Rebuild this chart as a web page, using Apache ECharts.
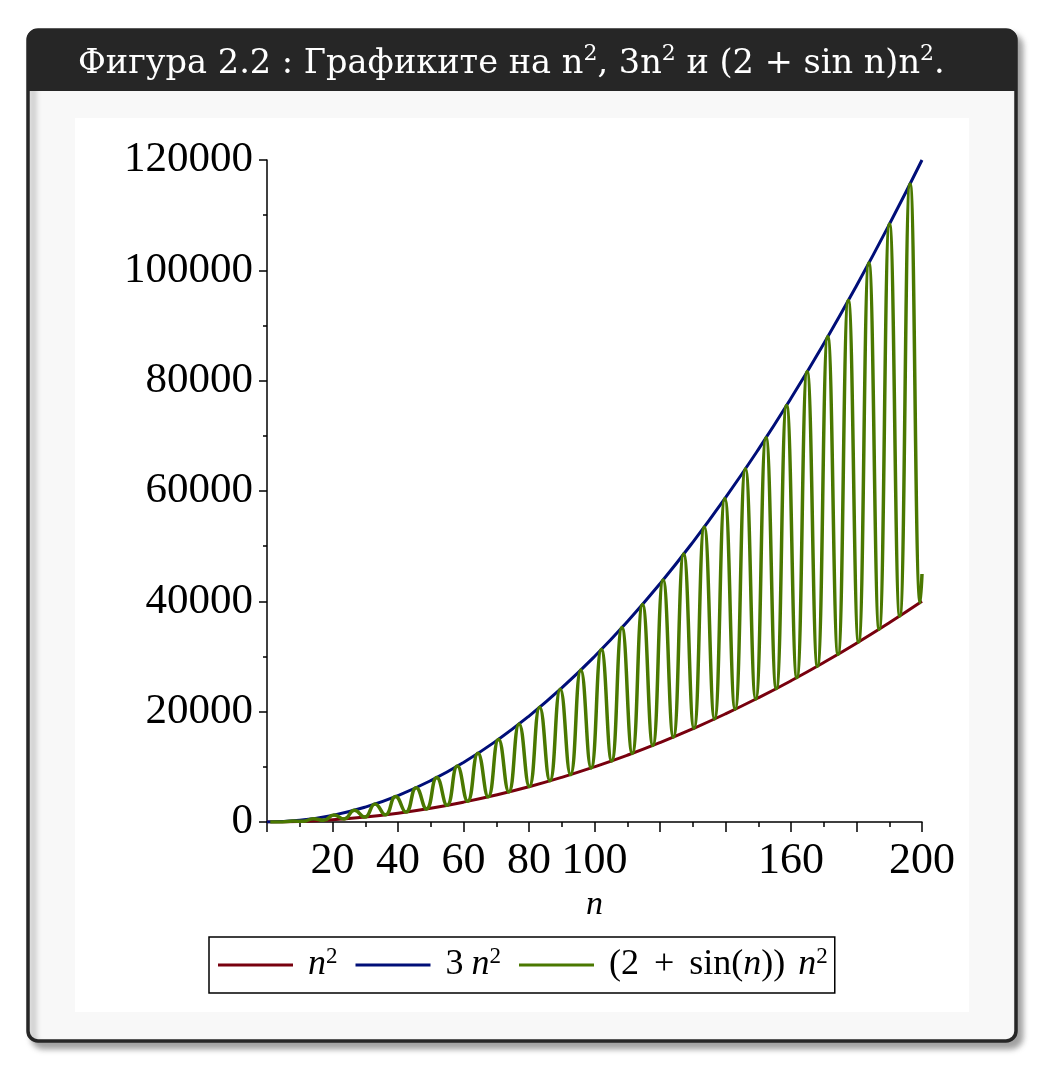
<!DOCTYPE html>
<html>
<head>
<meta charset="utf-8">
<script src="https://cdn.jsdelivr.net/npm/echarts@6/dist/echarts.min.js"></script>
<style>
  html, body { margin: 0; padding: 0; background: #fff; }
  #chart { width: 1039px; height: 1069px; }
</style>
</head>
<body>
<div id="chart"></div>
<script>
// n grid for the two smooth parabolas
var nGrid = [0, 10, 20, 30, 40, 50, 60, 70, 80, 90, 100, 110, 120, 130, 140, 150, 160, 170, 180, 190, 200];
var nSquared = [0, 100, 400, 900, 1600, 2500, 3600, 4900, 6400, 8100, 10000, 12100, 14400, 16900, 19600, 22500, 25600, 28900, 32400, 36100, 40000];
var threeNSquared = [0, 300, 1200, 2700, 4800, 7500, 10800, 14700, 19200, 24300, 30000, 36300, 43200, 50700, 58800, 67500, 76800, 86700, 97200, 108300, 120000];

// peaks / troughs of the green curve
var greenN = [1, 1.57, 4.71, 7.85, 11.0, 14.14, 17.28, 20.42, 23.56, 26.7, 29.85, 32.99, 36.13, 39.27, 42.41,
  45.55, 48.69, 51.84, 54.98, 58.12, 61.26, 64.4, 67.54, 70.69, 73.83, 76.97, 80.11, 83.25, 86.39,
  89.54, 92.68, 95.82, 98.96, 102.1, 105.24, 108.38, 111.53, 114.67, 117.81, 120.95, 124.09,
  127.23, 130.38, 133.52, 136.66, 139.8, 142.94, 146.08, 149.23, 152.37, 155.51, 158.65, 161.79,
  164.93, 168.08, 171.22, 174.36, 177.5, 180.64, 183.78, 186.92, 190.07, 193.21, 196.35, 199.49, 200];
var greenVal = [3, 7, 22, 185, 121, 600, 299, 1251, 555, 2139, 891, 3265, 1305, 4626, 1799,
  6224, 2371, 8062, 3023, 10134, 3753, 12442, 4562, 14991, 5451, 17773, 6418, 20792, 7463,
  24052, 8590, 27544, 9793, 31273, 11075, 35239, 12439, 39448, 13879, 43887, 15398,
  48563, 16999, 53483, 18676, 58632, 20432, 64018, 22270, 69650, 24183, 75509, 26176,
  81606, 28251, 87949, 30401, 94519, 32631, 101325, 34939, 108380, 37330, 115660, 39796, 44960];

var xLabels = [20, 40, 60, 80, 100, 160, 200];
var seriesNames = ['n²', '3 n²', '(2 + sin(n)) n²'];
var seriesColors = ['#78000E', '#000E78', '#4A7800'];

function pairs(xs, ys) {
  var out = [];
  for (var i = 0; i < xs.length; i++) out.push([xs[i], ys[i]]);
  return out;
}

var serif = 'Liberation Serif';
var legendRich = {
  t: { fontFamily: serif, fontSize: 36, lineHeight: 40, color: '#000' },
  o: { fontFamily: serif, fontSize: 36, lineHeight: 40, color: '#000', padding: [0, 15, 0, 15] },
  i: { fontFamily: serif, fontSize: 36, lineHeight: 40, fontStyle: 'italic', color: '#000' },
  g: { fontFamily: serif, fontSize: 36, lineHeight: 40, fontStyle: 'italic', color: '#000', padding: [0, 0, 0, 8] },
  h: { fontFamily: serif, fontSize: 36, lineHeight: 40, fontStyle: 'italic', color: '#000', padding: [0, 0, 0, 13] },
  s: { fontFamily: serif, fontSize: 23, lineHeight: 24, verticalAlign: 'top', color: '#000' }
};
var legendText = {
  'n²': '{i|n}{s|2}',
  '3 n²': '{t|3}{g|n}{s|2}',
  '(2 + sin(n)) n²': '{t|(2}{o|+}{t|sin(}{i|n}{t|))}{h|n}{s|2}'
};

var titleRich = {
  a: { fontFamily: 'DejaVu Serif', fontSize: 33.6, fontWeight: 'normal', lineHeight: 42, color: '#fff' },
  s: { fontFamily: 'DejaVu Serif', fontSize: 22, fontWeight: 'normal', lineHeight: 28, verticalAlign: 'top', color: '#fff' }
};

var chart = echarts.init(document.getElementById('chart'));
chart.setOption({
  animation: false,
  backgroundColor: '#fff',
  graphic: [
    { type: 'rect', z: -10, silent: true,
      shape: { x: 28, y: 30, width: 988, height: 1011, r: 10 },
      style: { fill: '#f8f8f8', stroke: '#262626', lineWidth: 3.5,
        shadowBlur: 6, shadowOffsetX: 5, shadowOffsetY: 6, shadowColor: 'rgba(0,0,0,0.35)' } },
    { type: 'rect', z: -9, silent: true,
      shape: { x: 27, y: 29, width: 990, height: 62, r: [10, 10, 0, 0] },
      style: { fill: '#262626' } },
    { type: 'rect', z: -9, silent: true,
      shape: { x: 75, y: 118, width: 894, height: 894 },
      style: { fill: '#fff' } }
  ],
  title: {
    left: 73, top: 38,
    text: '{a|Фигура 2.2 : Графиките на n}{s|2}{a|, 3n}{s|2}{a| и (2 + sin n)n}{s|2}{a|.}',
    textStyle: { fontWeight: 'normal', rich: titleRich }
  },
  legend: {
    left: 209, top: 937,
    data: seriesNames,
    icon: 'rect',
    itemWidth: 75, itemHeight: 3,
    itemGap: 18,
    padding: [8, 7, 10, 9],
    borderColor: '#000', borderWidth: 1.5,
    formatter: function (name) { return legendText[name]; },
    textStyle: { fontFamily: serif, fontSize: 36, padding: [0, 0, 0, 10], rich: legendRich }
  },
  grid: { left: 267, right: 117, top: 160, bottom: 247, containLabel: false },
  xAxis: {
    type: 'value', min: 0, max: 200, interval: 20,
    name: 'n', nameLocation: 'middle', nameGap: 66,
    nameTextStyle: { fontFamily: serif, fontSize: 34, fontStyle: 'italic', color: '#000' },
    axisLine: { lineStyle: { color: '#000', width: 1.5 } },
    axisTick: { length: 10, lineStyle: { color: '#000', width: 1.5 } },
    minorTick: { show: true, splitNumber: 2, length: 5, lineStyle: { color: '#000', width: 1.5 } },
    splitLine: { show: false },
    axisLabel: {
      margin: 17, fontFamily: serif, fontSize: 44, color: '#000',
      formatter: function (v) { return xLabels.indexOf(v) >= 0 ? String(v) : ''; }
    }
  },
  yAxis: {
    type: 'value', min: 0, max: 120000, interval: 20000,
    axisLine: { show: true, lineStyle: { color: '#000', width: 1.5 } },
    axisTick: { show: true, length: 8, lineStyle: { color: '#000', width: 1.5 } },
    minorTick: { show: true, splitNumber: 2, length: 4, lineStyle: { color: '#000', width: 1.5 } },
    splitLine: { show: false },
    axisLabel: { margin: 14, fontFamily: serif, fontSize: 43, color: '#000',
      formatter: function (v) { return String(v); } }
  },
  series: [
    { name: seriesNames[0], type: 'line', data: pairs(nGrid, nSquared), smooth: true, showSymbol: false,
      color: seriesColors[0], lineStyle: { width: 3, color: seriesColors[0] } },
    { name: seriesNames[1], type: 'line', data: pairs(nGrid, threeNSquared), smooth: true, showSymbol: false,
      color: seriesColors[1], lineStyle: { width: 3, color: seriesColors[1] } },
    { name: seriesNames[2], type: 'line', data: pairs(greenN, greenVal), smooth: true, showSymbol: false,
      color: seriesColors[2], lineStyle: { width: 3.5, color: seriesColors[2] } }
  ]
});
</script>
</body>
</html>
